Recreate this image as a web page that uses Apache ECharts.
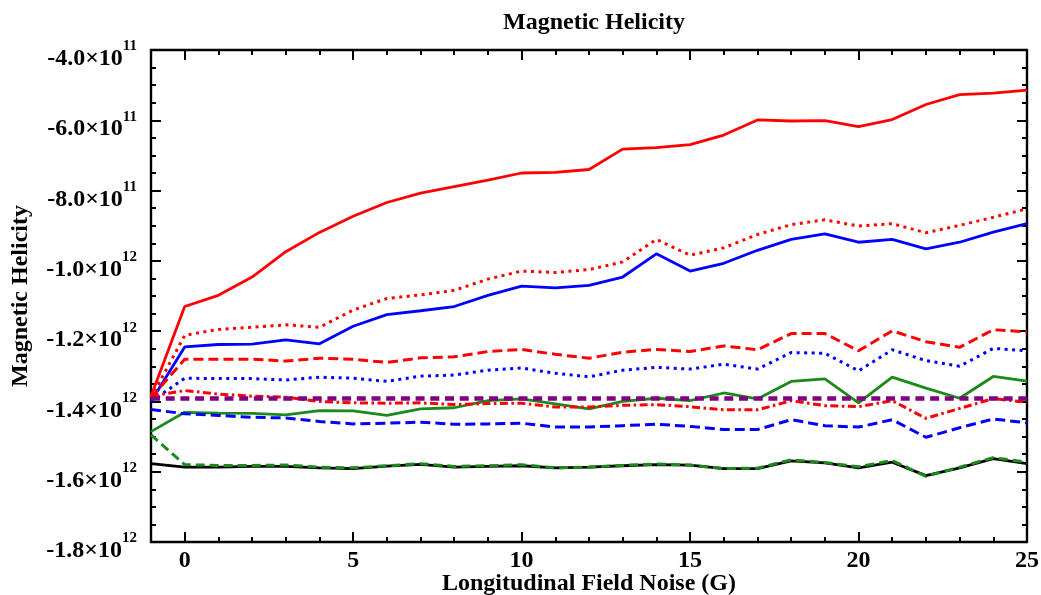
<!DOCTYPE html>
<html>
<head>
<meta charset="utf-8">
<title>Magnetic Helicity</title>
<script src="https://cdn.jsdelivr.net/npm/echarts@6/dist/echarts.min.js"></script>
<style>
  html, body { margin: 0; padding: 0; background: #fff; }
  #chart { width: 1041px; height: 595px; }
</style>
</head>
<body>
<div id="chart"></div>
<script>
// Noise level (G) on the x axis
const noise = [-1, 0, 1, 2, 3, 4, 5, 6, 7, 8, 9, 10, 11, 12, 13, 14, 15, 16, 17, 18, 19, 20, 21, 22, 23, 24, 25];

// Helicity values, in units of 1e12
const SCALE = 1e12;
const redSolid   = [-1.385, -1.130, -1.098, -1.046, -0.974, -0.919, -0.873, -0.834, -0.807, -0.789, -0.770, -0.750, -0.748, -0.740, -0.682, -0.678, -0.669, -0.642, -0.599, -0.602, -0.601, -0.618, -0.598, -0.555, -0.527, -0.523, -0.514];
const redDotted  = [-1.390, -1.212, -1.195, -1.189, -1.182, -1.189, -1.140, -1.107, -1.097, -1.084, -1.052, -1.029, -1.033, -1.025, -1.003, -0.939, -0.984, -0.963, -0.925, -0.897, -0.883, -0.901, -0.894, -0.920, -0.899, -0.876, -0.852];
const blueSolid  = [-1.400, -1.245, -1.238, -1.237, -1.225, -1.236, -1.186, -1.153, -1.142, -1.130, -1.098, -1.072, -1.077, -1.070, -1.046, -0.980, -1.029, -1.007, -0.970, -0.939, -0.923, -0.947, -0.939, -0.966, -0.947, -0.918, -0.894];
const redDashed  = [-1.390, -1.280, -1.280, -1.280, -1.285, -1.277, -1.280, -1.289, -1.276, -1.273, -1.258, -1.252, -1.266, -1.277, -1.260, -1.252, -1.258, -1.242, -1.253, -1.207, -1.207, -1.256, -1.199, -1.230, -1.246, -1.196, -1.202];
const blueDotted = [-1.400, -1.334, -1.335, -1.335, -1.339, -1.331, -1.334, -1.343, -1.328, -1.325, -1.311, -1.305, -1.320, -1.330, -1.311, -1.303, -1.308, -1.294, -1.308, -1.261, -1.263, -1.313, -1.253, -1.284, -1.300, -1.249, -1.256];
const redDashDot = [-1.385, -1.369, -1.379, -1.385, -1.388, -1.400, -1.404, -1.405, -1.404, -1.409, -1.406, -1.405, -1.416, -1.416, -1.411, -1.409, -1.415, -1.424, -1.424, -1.398, -1.412, -1.415, -1.398, -1.448, -1.420, -1.392, -1.402];
const greenSolid = [-1.486, -1.431, -1.433, -1.434, -1.438, -1.426, -1.427, -1.440, -1.421, -1.418, -1.398, -1.393, -1.407, -1.421, -1.400, -1.391, -1.398, -1.376, -1.393, -1.343, -1.336, -1.404, -1.331, -1.362, -1.391, -1.329, -1.342];
const blueDashed = [-1.423, -1.435, -1.440, -1.445, -1.447, -1.457, -1.464, -1.462, -1.459, -1.465, -1.464, -1.462, -1.473, -1.473, -1.469, -1.465, -1.471, -1.480, -1.480, -1.452, -1.469, -1.473, -1.452, -1.502, -1.475, -1.450, -1.461];
const purpleRef  = [-1.392, -1.392, -1.392, -1.392, -1.392, -1.392, -1.392, -1.392, -1.392, -1.392, -1.392, -1.392, -1.392, -1.392, -1.392, -1.392, -1.392, -1.392, -1.392, -1.392, -1.392, -1.392, -1.392, -1.392, -1.392, -1.392, -1.392];
const blackSolid = [-1.577, -1.587, -1.587, -1.585, -1.585, -1.589, -1.591, -1.584, -1.579, -1.587, -1.585, -1.583, -1.589, -1.587, -1.583, -1.580, -1.581, -1.591, -1.591, -1.569, -1.575, -1.589, -1.573, -1.611, -1.589, -1.563, -1.577];
const greenDashed= [-1.495, -1.580, -1.582, -1.582, -1.581, -1.587, -1.589, -1.583, -1.577, -1.585, -1.583, -1.580, -1.589, -1.587, -1.582, -1.578, -1.581, -1.591, -1.590, -1.566, -1.574, -1.586, -1.568, -1.613, -1.587, -1.560, -1.573];

// Axis tick labels
const xMajorTicks = [0, 5, 10, 15, 20, 25];
const Y_MIN = -1.8e12, Y_MAX = -4e11, Y_STEP = 2e11;

const FONT = '"Liberation Serif", "Times New Roman", serif';

function pairs(vals) {
  return noise.map((x, i) => [x, vals[i] * SCALE]);
}

function sciLabel(v) {
  const exp = Math.floor(Math.log10(Math.abs(v)) + 1e-9);
  const mant = (v / Math.pow(10, exp)).toFixed(1);
  return '{b|' + mant + '×10}{s|' + exp + '}';
}

const chart = echarts.init(document.getElementById('chart'), null, { renderer: 'canvas' });

const lineBase = { type: 'line', showSymbol: false, symbol: 'none', xAxisIndex: 0, yAxisIndex: 0, animation: false, silent: true };

function mkSeries(name, vals, color, width, dash) {
  return Object.assign({}, lineBase, {
    name: name,
    data: pairs(vals),
    lineStyle: { color: color, width: width, type: dash, cap: 'butt' }
  });
}

const axisLineStyle = { show: true, onZero: false, lineStyle: { color: '#000', width: 2.4 } };

function xAxisDef(pos, major, withLabels) {
  const ax = {
    type: 'value', position: pos, gridIndex: 0,
    min: -1, max: 25, interval: 1,
    axisLine: major ? axisLineStyle : { show: false },
    splitLine: { show: false },
    axisTick: { show: true, inside: true, length: major ? 10 : 5, lineStyle: { color: '#000', width: 2 } },
    axisLabel: { show: false }
  };
  if (major) {
    ax.axisTick.customValues = xMajorTicks;
  }
  if (withLabels) {
    ax.axisLabel = {
      show: true, customValues: xMajorTicks, margin: 7,
      color: '#000', fontFamily: FONT, fontWeight: 'bold', fontSize: 24
    };
    ax.name = 'Longitudinal Field Noise (G)';
    ax.nameLocation = 'middle';
    ax.nameGap = 30;
    ax.nameMoveOverlap = false;
    ax.nameTextStyle = { color: '#000', fontFamily: FONT, fontWeight: 'bold', fontSize: 24 };
  }
  return ax;
}

function yAxisDef(pos, withLabels) {
  const ax = {
    type: 'value', position: pos, gridIndex: 0,
    min: Y_MIN, max: Y_MAX, interval: Y_STEP,
    axisLine: axisLineStyle,
    splitLine: { show: false },
    axisTick: { show: true, inside: true, length: 10, lineStyle: { color: '#000', width: 2 } },
    minorTick: { show: true, splitNumber: 4, length: 5, lineStyle: { color: '#000', width: 2 } },
    axisLabel: { show: false }
  };
  if (withLabels) {
    ax.axisLabel = {
      show: true, margin: 14,
      padding: [10, 0, 0, 0],
      formatter: sciLabel,
      rich: {
        b: { color: '#000', fontFamily: FONT, fontWeight: 'bold', fontSize: 24, lineHeight: 32, verticalAlign: 'bottom' },
        s: { color: '#000', fontFamily: FONT, fontWeight: 'bold', fontSize: 15, lineHeight: 11, verticalAlign: 'top' }
      }
    };
    ax.name = 'Magnetic Helicity';
    ax.nameLocation = 'middle';
    ax.nameGap = 118;
    ax.nameRotate = 90;
    ax.nameMoveOverlap = false;
    ax.nameTextStyle = { color: '#000', fontFamily: FONT, fontWeight: 'bold', fontSize: 24 };
  }
  return ax;
}

const option = {
  backgroundColor: '#fff',
  animation: false,
  title: {
    text: 'Magnetic Helicity',
    left: 589, top: 6, textAlign: 'center',
    textStyle: { color: '#000', fontFamily: FONT, fontWeight: 'bold', fontSize: 24 }
  },
  grid: { left: 151, right: 14, top: 50, bottom: 53, containLabel: false, outerBoundsMode: 'none' },
  xAxis: [
    xAxisDef('bottom', true, true),
    xAxisDef('bottom', false, false),
    xAxisDef('top', true, false),
    xAxisDef('top', false, false)
  ],
  yAxis: [
    yAxisDef('left', true),
    yAxisDef('right', false)
  ],
  series: [
    mkSeries('red solid', redSolid, '#ff0000', 2.8, 'solid'),
    mkSeries('red dotted', redDotted, '#ff0000', 3, [3, 4.5]),
    mkSeries('blue solid', blueSolid, '#0000ff', 2.8, 'solid'),
    mkSeries('red dashed', redDashed, '#ff0000', 3, [10, 5]),
    mkSeries('blue dotted', blueDotted, '#0000ff', 3, [3, 4.5]),
    mkSeries('green solid', greenSolid, '#1a8a1a', 2.8, 'solid'),
    mkSeries('blue dashed', blueDashed, '#0000ff', 3, [10, 5]),
    mkSeries('red dash-dot', redDashDot, '#ff0000', 3, [8, 3.5, 2.5, 3.5]),
    mkSeries('purple dashed', purpleRef, '#800080', 4.5, [9, 5.7]),
    mkSeries('black solid', blackSolid, '#000000', 2.8, 'solid'),
    mkSeries('green dashed', greenDashed, '#1a8a1a', 3, [9, 5])
  ]
};

chart.setOption(option);
</script>
</body>
</html>
